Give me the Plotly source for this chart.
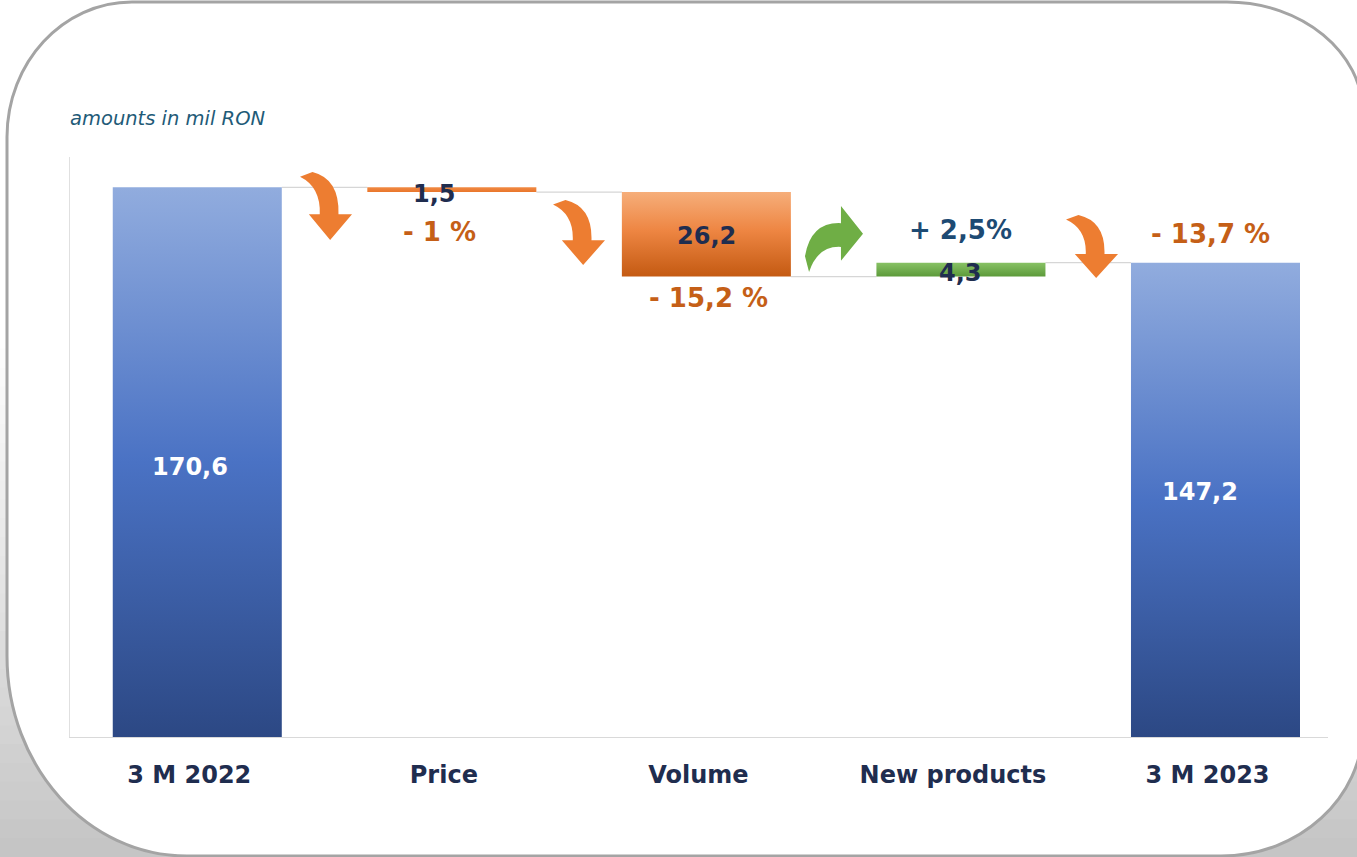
import plotly.graph_objects as go

W, H = 1357, 857

# ---- data -------------------------------------------------------------
categories = ["3 M 2022", "Price", "Volume", "New products", "3 M 2023"]
measures = ["absolute", "relative", "relative", "relative", "total"]
values = [170.6, -1.5, -26.2, 4.3, 147.2]
value_text = ["170,6", "1,5", "26,2", "4,3", "147,2"]
change_text = ["", "- 1 %", "- 15,2 %", "+ 2,5%", "- 13,7 %"]
unit_note = "amounts in mil RON"

# ---- waterfall spans (bottom, top) from the running total --------------
spans = []
running = 0.0
for m, v in zip(measures, values):
    if m in ("absolute", "total"):
        lo, hi = 0.0, v
        running = v
    else:
        new = running + v
        lo, hi = min(running, new), max(running, new)
        running = new
    spans.append((lo, hi))

# ---- styling ----------------------------------------------------------
FONT = "DejaVu Sans"
NAVY = "#1f2d4f"
ORANGE_TXT = "#c55f17"
BLUE_TXT = "#1d4a73"
HALF = 0.332  # half bar width in category units

blue_scale = [[0, "#2c4884"], [0.5, "#4a72c4"], [1, "#91acde"]]
orange_scale = [[0, "#c45a12"], [0.55, "#ee8643"], [1, "#f6ae7a"]]
price_scale = [[0, "#e9752a"], [1, "#f08a44"]]
green_scale = [[0, "#5c9a3a"], [1, "#88c265"]]
bar_scales = [blue_scale, price_scale, orange_scale, green_scale, blue_scale]

fig = go.Figure()

# connector lines between consecutive bars
cx, cy = [], []
level = 0.0
for i, (m, v) in enumerate(zip(measures, values)):
    level = v if m in ("absolute", "total") else level + v
    if i < len(values) - 1:
        cx += [i + HALF, i + 1 - HALF, None]
        cy += [level, level, None]
fig.add_trace(go.Scatter(x=cx, y=cy, mode="lines",
                         line=dict(color="#d6d6d6", width=1.2),
                         hoverinfo="skip", showlegend=False))

# bars drawn as filled rectangles with vertical gradients
for i, ((lo, hi), scale) in enumerate(zip(spans, bar_scales)):
    fig.add_trace(go.Scatter(
        x=[i - HALF, i + HALF, i + HALF, i - HALF, i - HALF],
        y=[lo, lo, hi, hi, lo],
        mode="lines", fill="toself", line=dict(width=0),
        fillgradient=dict(type="vertical", colorscale=scale, start=lo, stop=hi),
        name=categories[i], hoverinfo="name", showlegend=False))

# value labels
val_color = ["white", NAVY, NAVY, NAVY, "white"]
val_xshift = [-7, -17, 0, 0, -15]
val_yshift = [-5, -4, -2, -3, 8]
for i, ((lo, hi), t) in enumerate(zip(spans, value_text)):
    fig.add_annotation(x=i, y=(lo + hi) / 2, text=t, showarrow=False,
                       xshift=val_xshift[i], yshift=val_yshift[i],
                       font=dict(family=FONT, size=24, color=val_color[i], weight="bold"))

# percentage change labels
pct_edge = [None, "lo", "lo", "hi", "hi"]
pct_shift = [0, -40, -21, 33, 29]
pct_xshift = [0, -12, 2, 0, -5]
for i, t in enumerate(change_text):
    if not t:
        continue
    lo, hi = spans[i]
    col = BLUE_TXT if t.startswith("+") else ORANGE_TXT
    fig.add_annotation(x=i, y=lo if pct_edge[i] == "lo" else hi, text=t,
                       showarrow=False, xshift=pct_xshift[i], yshift=pct_shift[i],
                       font=dict(family=FONT, size=26, color=col, weight="bold"))


# ---- decorations in pixel space ----------------------------------------
def px(x, y):
    return f"{x / W:.5f},{1 - y / H:.5f}"


shapes = []

# soft grey backdrop fading in toward the bottom (bands overlap to avoid seams)
y_start, y_end, steps = 330, H, 28
for k in range(steps):
    a = y_start + (y_end - y_start) * k / steps
    b = min(H, y_start + (y_end - y_start) * (k + 1) / steps + 2)
    g = int(round(255 - 58 * ((k + 1) / steps) ** 1.1))
    shapes.append(dict(type="rect", xref="paper", yref="paper",
                       x0=0, x1=1, y0=1 - b / H, y1=1 - a / H,
                       fillcolor=f"rgb({g},{g},{g})", line=dict(width=0),
                       layer="below"))

# rounded white card
K = 0.5523
L, R, T, B = 7, 1363, 2, 856
tlx, tly = 125, 135
trx, try_ = 136, 112
brx, bry = 142, 130
blx, bly = 180, 200
card = (
    f"M{px(L + tlx, T)} L{px(R - trx, T)} "
    f"C{px(R - trx + K * trx, T)} {px(R, T + try_ - K * try_)} {px(R, T + try_)} "
    f"L{px(R, B - bry)} "
    f"C{px(R, B - bry + K * bry)} {px(R - brx + K * brx, B)} {px(R - brx, B)} "
    f"L{px(L + blx, B)} "
    f"C{px(L + blx - K * blx, B)} {px(L, B - bly + K * bly)} {px(L, B - bly)} "
    f"L{px(L, T + tly)} "
    f"C{px(L, T + tly - K * tly)} {px(L + tlx - K * tlx, T)} {px(L + tlx, T)} Z"
)
shapes.append(dict(type="path", xref="paper", yref="paper", path=card,
                   fillcolor="white", line=dict(color="#a4a4a4", width=3),
                   layer="below"))

# curved arrow outline in a unit box (u to the right, v downward)
ARROW = [
    ("M", [(0.24, 0.0)]),
    ("Q", [(0.76, 0.10), (0.74, 0.62)]),
    ("L", [(1.0, 0.62)]),
    ("L", [(0.58, 1.0)]),
    ("L", [(0.17, 0.62)]),
    ("L", [(0.38, 0.62)]),
    ("Q", [(0.40, 0.22), (0.0, 0.07)]),
]


def arrow_path(x0, y0, w, h, turn_up=False):
    parts = []
    for cmd, pts in ARROW:
        coords = []
        for u, v in pts:
            if turn_up:
                X, Y = x0 + v * w, y0 + h - u * h
            else:
                X, Y = x0 + u * w, y0 + v * h
            coords.append(px(X, Y))
        parts.append(cmd + " ".join(coords))
    return " ".join(parts) + " Z"


arrows = [
    (300, 172, 52, 68, False, "#ed7d31"),
    (553, 200, 52, 65, False, "#ed7d31"),
    (805, 206, 58, 66, True, "#6fae45"),
    (1066, 215, 52, 63, False, "#ed7d31"),
]
for x0, y0, w, h, up, col in arrows:
    shapes.append(dict(type="path", xref="paper", yref="paper",
                       path=arrow_path(x0, y0, w, h, up),
                       fillcolor=col, line=dict(width=0), layer="above"))

fig.add_annotation(xref="paper", yref="paper", x=68 / W, y=1 - 118 / H,
                   xanchor="left", yanchor="middle", showarrow=False,
                   text=unit_note,
                   font=dict(family=FONT, size=19.5, color="#1f5b78", style="italic"))

fig.update_layout(
    width=W, height=H,
    margin=dict(l=0, r=0, t=0, b=0),
    paper_bgcolor="white",
    plot_bgcolor="rgba(0,0,0,0)",
    shapes=shapes,
    showlegend=False,
    xaxis=dict(domain=[70 / W, 1328 / W], range=[-0.5, 4.442],
               tickvals=list(range(len(categories))), ticktext=categories,
               tickfont=dict(family=FONT, size=24, color=NAVY, weight="bold"),
               ticks="", ticklabelstandoff=16, ticklabelshift=-8,
               showline=True, linecolor="#d9d9d9", linewidth=1.2,
               showgrid=False, zeroline=False, fixedrange=True),
    yaxis=dict(domain=[1 - 737 / H, 1 - 157 / H], range=[0, 180],
               showticklabels=False, ticks="",
               showline=True, linecolor="#e0e0e0", linewidth=1.2,
               showgrid=False, zeroline=False, fixedrange=True),
)

fig.write_html("out.html")
